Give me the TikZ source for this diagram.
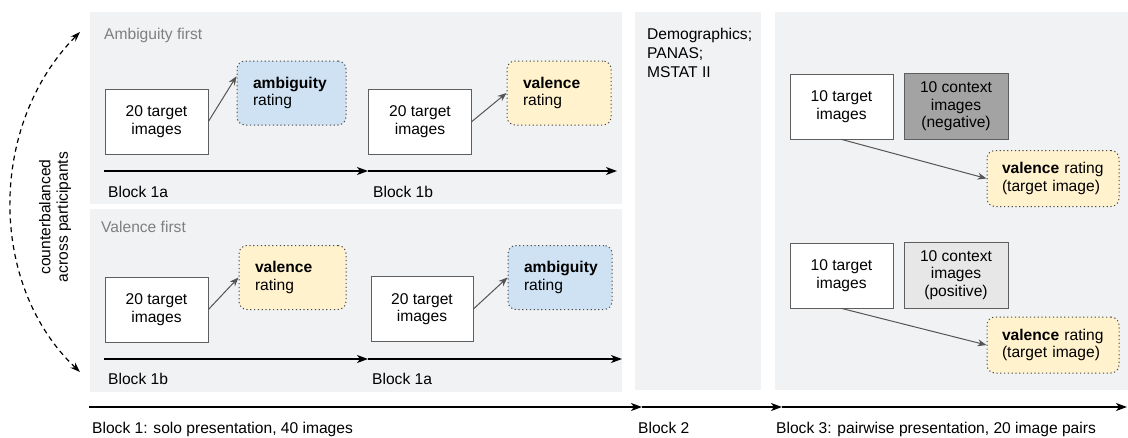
\documentclass[tikz,border=0pt]{standalone}
\usepackage{fontspec}
\setmainfont{Liberation Sans}
\usetikzlibrary{arrows.meta}

\definecolor{panelbg}{HTML}{F1F2F4}
\definecolor{boxline}{HTML}{5E5E5E}
\definecolor{dotline}{HTML}{4A4A4A}
\definecolor{ambblue}{HTML}{CFE2F3}
\definecolor{valyellow}{HTML}{FFF2CC}
\definecolor{ctxdark}{HTML}{A3A3A3}
\definecolor{ctxlight}{HTML}{E7E7E7}
\definecolor{headgray}{HTML}{7F7F7F}
\definecolor{linkgray}{HTML}{555555}

\begin{document}
\begin{tikzpicture}[x=1pt, y=-1pt,
  font=\fontsize{15.6}{17.5}\selectfont,
  tbox/.style={draw=boxline, fill=white, line width=0.8pt, align=center,
    inner sep=0pt, minimum width=103pt, minimum height=65pt},
  ctxbox/.style={tbox, minimum width=104pt, minimum height=66pt},
  rate/.style={draw=dotline, line width=1pt, dash pattern=on 1.2pt off 2.6pt,
    rounded corners=8pt, align=left, inner xsep=16pt, inner ysep=0pt,
    minimum height=64pt},
  rate3/.style={rate, inner xsep=15pt, text width=102pt, minimum height=56pt},
  link/.style={draw=linkgray, line width=1pt, -{Stealth[length=9pt, width=7pt]}},
  tl/.style={draw=black, line width=1.3pt},
  tlarrow/.style={tl, -{Stealth[length=11pt, width=8pt, inset=3pt]}},
  blocklbl/.style={anchor=base west, inner sep=0pt},
  heading/.style={anchor=base west, inner sep=0pt, text=headgray}
]
\useasboundingbox (0,0) rectangle (1128,437);

% background panels
\fill[panelbg] (90,12) rectangle (622,204);
\fill[panelbg] (90,209) rectangle (622,392);
\fill[panelbg] (635,12) rectangle (761,390);
\fill[panelbg] (775,12) rectangle (1128,390);

% ---- Block 1, ambiguity first ----
\node[heading] (hA) at (104,39) {Ambiguity first};
\node[tbox] (t1) at (156.5,121.5) {20 target\\images};
\node[rate, fill=ambblue, text width=77pt] (r1) at (291.5,93) {\textbf{ambiguity}\\rating};
\node[tbox] (t2) at (420,121.5) {20 target\\images};
\node[rate, fill=valyellow, text width=72pt] (r2) at (559,93) {\textbf{valence}\\rating};
\draw[link] (t1.east) -- (r1.163);
\draw[link] (t2.east) -- (r2.west);

\coordinate (a0) at (104,171);
\coordinate (a1) at (368,171);
\coordinate (a2) at (617,171);
\draw[tlarrow] (a0) -- (a1);
\draw[tlarrow] (a1) -- (a2);
\node[blocklbl] (la1) at (108,197) {Block 1a};
\node[blocklbl] (la2) at (373,197) {Block 1b};

% ---- Block 1, valence first ----
\node[heading] (hV) at (101,232) {Valence first};
\node[tbox] (t3) at (156.5,309.5) {20 target\\images};
\node[rate, fill=valyellow, text width=75pt] (r3) at (292.5,277.5) {\textbf{valence}\\rating};
\node[tbox, minimum width=102pt] (t4) at (422,309) {20 target\\images};
\node[rate, fill=ambblue, text width=72pt] (r4) at (560,277.5) {\textbf{ambiguity}\\rating};
\draw[link] (t3.east) -- (r3.west);
\draw[link] (t4.east) -- (r4.west);

\coordinate (b0) at (104,359);
\coordinate (b1) at (368,359);
\coordinate (b2) at (622,359);
\draw[tlarrow] (b0) -- (b1);
\draw[tlarrow] (b1) -- (b2);
\node[blocklbl] (lb1) at (108,384) {Block 1b};
\node[blocklbl] (lb2) at (372,384) {Block 1a};

% ---- Block 2 ----
\node[anchor=north west, inner sep=0pt, align=left,
  font=\fontsize{15.6}{19}\selectfont] (q) at (647,27.5)
  {Demographics;\\PANAS;\\MSTAT II};

% ---- Block 3 ----
\node[tbox] (t5) at (841.5,106.5) {10 target\\images};
\node[ctxbox, fill=ctxdark] (c1) at (956,106.5) {10 context\\images\\(negative)};
\node[rate3, fill=valyellow] (v1) at (1053,178.5) {\textbf{valence} rating\\(target image)};
\draw[link] (t5.south) -- (v1.west);

\node[tbox] (t6) at (841.5,275.5) {10 target\\images};
\node[ctxbox, fill=ctxlight] (c2) at (956,275) {10 context\\images\\(positive)};
\node[rate3, fill=valyellow] (v2) at (1053,345) {\textbf{valence} rating\\(target image)};
\draw[link] (t6.south) -- (v2.west);

% ---- overall timeline ----
\coordinate (m0) at (89,407);
\coordinate (m1) at (642,407);
\coordinate (m2) at (782,407);
\coordinate (m3) at (1127,407);
\draw[tlarrow] (m0) -- (m1);
\draw[tlarrow] (m1) -- (m2);
\draw[tlarrow] (m2) -- (m3);
\node[blocklbl] (l1) at (92,433) {Block 1: solo presentation, 40 images};
\node[blocklbl] (l2) at (638,433) {Block 2};
\node[blocklbl] (l3) at (776,433) {Block 3: pairwise presentation, 20 image pairs};

% ---- counterbalancing ----
\coordinate (cbTop) at (80,32);
\coordinate (cbBot) at (80,372);
\draw[line width=1.2pt, dash pattern=on 5pt off 4pt,
  {Stealth[length=10pt, width=7pt]}-{Stealth[length=10pt, width=7pt]}]
  (cbBot) .. controls (-12,285) and (-12,125) .. (cbTop);
\node[rotate=90, align=center] (cb) at (55,217) {counterbalanced\\across participants};
\end{tikzpicture}
\end{document}
